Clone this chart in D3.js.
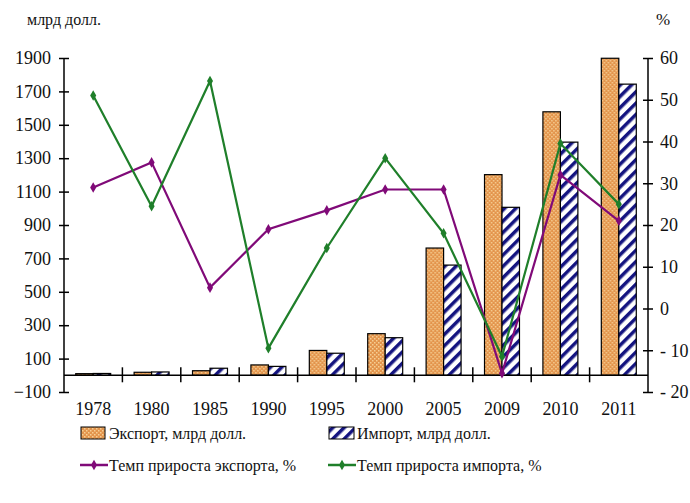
<!DOCTYPE html>
<html lang="ru">
<head>
  <meta charset="UTF-8">
  <title>Экспорт и импорт</title>
  <style>
    body { margin: 0; background: #fff; }
    svg text { font-family: 'Liberation Serif', 'DejaVu Serif', 'Times New Roman', serif !important; fill: #111; }
  </style>
</head>
<body>
  <svg id="chart" width="690" height="503"></svg>

  <script src="https://d3js.org/d3.v7.min.js"></script>
  <script>
    // Data
    const years = ['1978', '1980', '1985', '1990', '1995', '2000', '2005', '2009', '2010', '2011']
    const exportValues = [9.8, 18.1, 27.4, 62.1, 148.8, 249.2, 762, 1201.6, 1577.8, 1898.4]
    const importValues = [10.9, 20, 42.3, 53.4, 132.1, 225.1, 660, 1005.9, 1396.2, 1743.5]
    const exportGrowth = [29, 35, 5, 19, 23.5, 28.5, 28.5, -15.5, 32, 21]
    const importGrowth = [51, 24.5, 54.5, -9.5, 14.5, 36, 18, -11.5, 39.5, 25]
    const leftTicks = [-100, 100, 300, 500, 700, 900, 1100, 1300, 1500, 1700, 1900]
    const rightTicks = [-20, -10, 0, 10, 20, 30, 40, 50, 60]

    const margin = { top: 58, left: 64, right: 648, bottom: 392 }
    const fontFamily = "'Liberation Serif', 'DejaVu Serif', serif"

    const svg = d3.select('#chart')

    // Patterns for the bars
    const defs = svg.append('defs')
    const pExp = defs.append('pattern')
      .attr('id', 'expPat').attr('patternUnits', 'userSpaceOnUse')
      .attr('width', 4).attr('height', 4)
    pExp.append('rect').attr('width', 4).attr('height', 4).attr('fill', '#e3944c')
    pExp.append('rect').attr('x', 0).attr('y', 0).attr('width', 1.5).attr('height', 1.5).attr('fill', '#f6cf94')
    pExp.append('rect').attr('x', 2).attr('y', 2).attr('width', 1.5).attr('height', 1.5).attr('fill', '#f6cf94')

    const pImp = defs.append('pattern')
      .attr('id', 'impPat').attr('patternUnits', 'userSpaceOnUse')
      .attr('width', 8).attr('height', 8)
      .attr('patternTransform', 'rotate(45)')
    pImp.append('rect').attr('width', 8).attr('height', 8).attr('fill', '#fff')
    pImp.append('rect').attr('x', 0).attr('width', 3.5).attr('height', 8).attr('fill', '#141480')

    // Scales
    const x = d3.scaleBand().domain(years).range([margin.left, margin.right])
    const x1 = d3.scaleBand().domain(['exp', 'imp']).range([0, x.bandwidth()]).paddingOuter(0.67)
    const yL = d3.scaleLinear().domain([-100, 1900]).range([margin.bottom, margin.top])
    const yR = d3.scaleLinear().domain([-20, 60]).range([margin.bottom, margin.top])

    // Bars
    const rows = years.map((y, i) => ({ year: y, exp: exportValues[i], imp: importValues[i] }))
    const groups = svg.append('g').selectAll('g')
      .data(rows).enter().append('g')
      .attr('transform', d => `translate(${x(d.year)},0)`)
    groups.append('rect')
      .attr('x', x1('exp')).attr('width', x1.bandwidth())
      .attr('y', d => yL(d.exp)).attr('height', d => yL(0) - yL(d.exp))
      .attr('fill', 'url(#expPat)').attr('stroke', '#000').attr('stroke-width', 1.2)
    groups.append('rect')
      .attr('x', x1('imp')).attr('width', x1.bandwidth())
      .attr('y', d => yL(d.imp)).attr('height', d => yL(0) - yL(d.imp))
      .attr('fill', 'url(#impPat)').attr('stroke', '#000').attr('stroke-width', 1.2)

    // Axes
    const leftAxis = d3.axisLeft(yL).tickValues(leftTicks).tickFormat(d3.format('d')).tickSize(5)
    const gl = svg.append('g').attr('transform', `translate(${margin.left},0)`).call(leftAxis)
    const rightAxis = d3.axisRight(yR).tickValues(rightTicks).tickFormat(d => d < 0 ? '- ' + (-d) : d).tickSize(5)
    const gr = svg.append('g').attr('transform', `translate(${margin.right},0)`).call(rightAxis)
    const bottomAxis = d3.axisBottom(x).tickSize(0).tickPadding(0)
    const gb = svg.append('g').attr('transform', `translate(0,${yL(0)})`).call(bottomAxis)

    ;[gl, gr, gb].forEach(g => g.attr('font-family', fontFamily))
    ;[gl, gr].forEach(g => {
      g.select('.domain').attr('stroke', '#000').attr('stroke-width', 1.5)
        .attr('d', `M0,${margin.top}V${margin.bottom}`)
      g.selectAll('.tick line').attr('stroke', '#000').attr('stroke-width', 1.5)
        .attr('x1', -5).attr('x2', 5)
      g.selectAll('.tick text').attr('font-size', 18).attr('fill', '#111')
    })
    gl.selectAll('.tick text').attr('x', -13)
    gr.selectAll('.tick text').attr('x', 12)
    gb.select('.domain').attr('stroke', '#000').attr('stroke-width', 1.5)
      .attr('d', `M${margin.left},0H${margin.right}`)
    gb.selectAll('.tick text').attr('font-size', 18).attr('fill', '#111')
      .attr('dy', 0).attr('y', 40)
    // category separators on the x axis
    gb.selectAll('.sep').data(years.slice(1)).enter().append('line')
      .attr('x1', d => x(d)).attr('x2', d => x(d))
      .attr('y1', -8).attr('y2', 7)
      .attr('stroke', '#000').attr('stroke-width', 1.5)
    gb.selectAll('.tick line').remove()

    // Lines
    const series = [
      { values: exportGrowth, color: '#800a78' },
      { values: importGrowth, color: '#1f7f2a' }
    ]
    const line = d3.line()
      .x((d, i) => x(years[i]) + x.bandwidth() / 2)
      .y(d => yR(d))
    const diamond = d3.symbol().type(d3.symbolDiamond).size(32)
    series.forEach(s => {
      svg.append('path').datum(s.values)
        .attr('d', line).attr('fill', 'none')
        .attr('stroke', s.color).attr('stroke-width', 2.2)
      svg.append('g').selectAll('path').data(s.values).enter().append('path')
        .attr('d', diamond)
        .attr('transform', (d, i) => `translate(${x(years[i]) + x.bandwidth() / 2},${yR(d)})`)
        .attr('fill', s.color)
    })

    // Axis titles
    svg.append('text').attr('x', 27).attr('y', 25).attr('font-size', 16).text('млрд долл.')
    svg.append('text').attr('x', 656).attr('y', 25).attr('font-size', 17).text('%')

    // Legend
    const legend = svg.append('g')
    legend.append('rect').attr('x', 81).attr('y', 427).attr('width', 24).attr('height', 12)
      .attr('fill', 'url(#expPat)').attr('stroke', '#000')
    legend.append('text').attr('x', 109).attr('y', 439).attr('font-size', 16).text('Экспорт, млрд долл.')
    legend.append('rect').attr('x', 329).attr('y', 427).attr('width', 25).attr('height', 12)
      .attr('fill', 'url(#impPat)').attr('stroke', '#000')
    legend.append('text').attr('x', 357).attr('y', 439).attr('font-size', 16).text('Импорт, млрд долл.')

    const lineLegend = [
      { x: 80, label: 'Темп прироста экспорта, %', color: series[0].color },
      { x: 328, label: 'Темп прироста импорта, %', color: series[1].color }
    ]
    lineLegend.forEach(l => {
      legend.append('line').attr('x1', l.x).attr('x2', l.x + 28).attr('y1', 465).attr('y2', 465)
        .attr('stroke', l.color).attr('stroke-width', 2.5)
      legend.append('path').attr('d', diamond).attr('transform', `translate(${l.x + 14},465)`).attr('fill', l.color)
      legend.append('text').attr('x', l.x + 29).attr('y', 471).attr('font-size', 16).text(l.label)
    })
  </script>
</body>
</html>
